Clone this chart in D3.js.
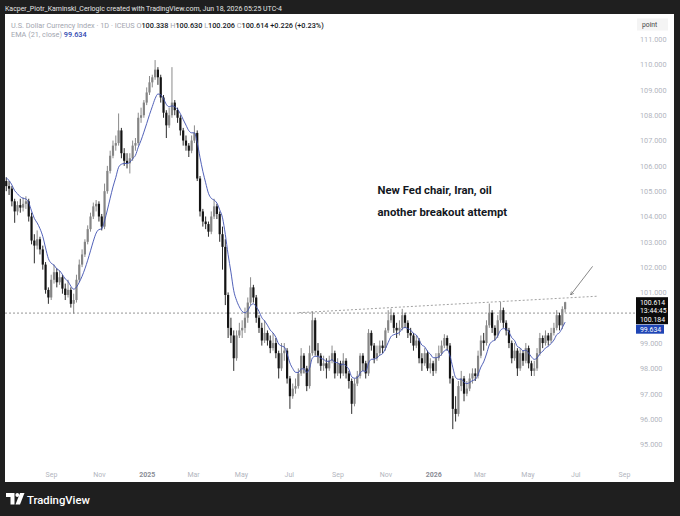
<!DOCTYPE html>
<html><head><meta charset="utf-8">
<script src="https://cdn.jsdelivr.net/npm/d3@7"></script>
<style>html,body{margin:0;padding:0;background:#1f1f1f;}svg{display:block}</style>
</head><body>
<script>
// ---- data (2-trading-day candles) ----
const firstDate = "2024-07-06";
const lastDate = "2026-06-18";
const firstOpen = 105.4;
const closes = [
105.2,105.1,104.6,104.2,104.45,104.35,104.5,104.6,104.0,103.05,
102.85,103.1,102.7,102.1,101.1,100.8,101.5,101.8,101.4,101.6,
101.15,100.9,101.1,100.55,100.7,101.5,102.1,102.5,103.0,103.5,
104.0,104.4,104.5,104.0,103.6,105.0,105.8,106.4,106.8,106.9,
107.4,106.5,106.2,106.1,106.3,106.8,106.9,107.9,108.0,108.5,
108.9,109.3,109.5,109.8,109.5,108.7,108.1,107.6,108.0,108.5,
108.2,107.9,107.4,107.0,106.8,106.6,107.0,107.3,105.5,104.2,
103.8,103.7,103.4,104.0,104.4,104.1,103.3,102.8,100.9,99.6,
99.3,98.4,99.3,99.5,99.6,100.0,100.6,101.2,100.8,100.0,
99.6,99.1,99.4,99.1,98.8,99.0,98.6,98.0,98.6,98.7,
97.6,96.9,97.2,97.3,97.8,98.5,98.0,97.3,98.6,99.9,
98.7,98.5,98.1,98.2,98.0,98.3,98.6,97.8,98.2,97.8,
98.3,97.8,97.5,96.6,97.4,97.7,98.5,98.2,97.8,99.4,
98.9,98.4,98.6,98.9,98.8,99.5,99.9,100.1,99.6,99.5,
99.6,100.1,99.8,99.4,99.3,98.9,99.1,98.4,98.2,98.6,
98.0,98.2,97.9,98.4,98.6,98.9,99.2,98.9,97.6,96.4,
96.2,97.3,97.6,97.0,97.2,97.6,97.8,97.7,98.5,99.1,
99.0,99.7,100.2,99.6,99.3,99.9,100.3,99.8,99.5,99.0,
98.4,98.7,98.0,98.6,98.3,98.8,98.2,97.9,98.0,98.6,
99.2,99.0,99.3,99.1,99.4,99.6,100.1,99.7,100.34,100.614];
const highs = [
105.55,105.4,105.2,104.7,104.6,104.7,104.75,104.8,104.7,104.15,
103.3,103.45,103.2,102.85,102.2,101.2,101.7,102.1,101.95,101.85,
101.7,101.35,101.5,101.2,100.95,101.7,102.3,102.7,103.1,103.65,
104.15,104.55,104.65,104.6,104.1,105.3,106.0,106.6,107.0,107.2,
108.07,107.5,106.7,106.5,106.5,107.0,107.1,108.1,108.3,108.6,
109.1,109.55,109.6,110.18,109.9,109.6,108.8,108.2,108.3,109.9,
108.6,108.3,108.0,107.5,107.2,106.9,107.2,107.6,107.4,105.6,
104.3,104.0,103.8,104.2,104.7,104.5,104.2,103.6,103.1,101.0,
100.0,99.5,99.5,99.8,99.9,100.4,100.8,101.6,101.3,100.9,
100.1,99.8,99.9,99.5,99.3,99.4,99.2,98.7,99.0,99.0,
98.8,97.7,97.4,97.6,98.0,98.8,98.6,98.1,98.9,100.25,
100.0,99.0,98.6,98.5,98.4,98.5,98.9,98.7,98.4,98.3,
98.6,98.4,97.9,97.6,97.6,97.9,98.6,98.6,98.3,99.55,
99.5,99.0,98.9,99.1,99.1,99.6,100.3,100.36,100.2,99.8,
99.9,100.35,100.2,99.9,99.6,99.4,99.3,99.2,98.6,98.8,
98.7,98.4,98.3,98.6,98.9,99.1,99.35,99.3,99.0,97.7,
96.9,97.5,97.9,97.7,97.5,97.8,98.0,98.0,98.7,99.3,
99.4,99.9,100.56,100.3,99.7,100.1,100.62,100.4,99.9,99.6,
99.1,99.0,98.8,98.8,98.7,99.0,98.9,98.3,98.3,98.8,
99.4,99.3,99.5,99.4,99.6,99.8,100.3,100.2,100.45,100.63];
const lows = [
105.0,104.85,104.4,103.75,104.05,104.15,104.2,104.3,103.8,102.9,
102.15,102.7,102.5,101.9,100.95,100.55,100.7,101.35,101.2,101.3,
100.95,100.7,100.8,100.4,100.16,100.6,101.4,102.0,102.4,102.9,
103.4,103.9,104.2,103.8,103.45,103.5,104.9,105.7,106.3,106.6,
106.8,106.3,106.0,105.9,105.7,106.2,106.6,106.8,107.7,107.9,
108.4,108.8,109.1,109.4,109.2,108.5,107.9,107.1,107.5,107.9,
108.0,107.7,107.2,106.8,106.6,106.35,106.5,106.9,105.4,104.0,
103.6,103.5,103.2,103.3,103.9,103.9,103.0,101.9,100.5,99.2,
99.0,97.9,98.3,99.2,99.2,99.4,99.8,100.5,100.6,99.8,
99.4,98.9,99.0,98.9,98.6,98.7,98.4,97.6,97.9,98.3,
97.4,96.4,96.8,97.0,97.2,97.7,97.8,97.1,97.2,98.5,
98.5,98.2,97.9,97.9,97.6,97.9,98.2,97.6,97.7,97.6,
97.7,97.6,97.2,96.2,96.5,97.3,97.6,97.9,97.6,97.7,
98.7,98.2,98.3,98.5,98.6,98.7,99.4,99.8,99.4,99.2,
99.3,99.5,99.6,99.2,99.0,98.7,98.8,98.2,97.9,98.1,
97.9,97.8,97.7,97.8,98.3,98.5,98.8,98.7,97.4,95.6,
95.9,96.1,97.1,96.7,96.9,97.1,97.4,97.5,97.6,98.4,
98.7,98.9,99.6,99.4,99.1,99.2,99.8,99.6,99.3,98.8,
98.2,98.3,97.7,97.9,98.1,98.2,98.0,97.7,97.7,97.9,
98.5,98.8,98.9,98.9,99.0,99.3,99.5,99.5,99.55,100.206];
const emaLength = 21;
const yTicks = [95,96,97,98,99,100,101,102,103,104,105,106,107,108,109,110,111];
const monthTicks = ["2024-09-01","2024-11-01","2025-01-01","2025-03-01","2025-05-01","2025-07-01",
  "2025-09-01","2025-11-01","2026-01-01","2026-03-01","2026-05-01","2026-07-01","2026-09-01"];
const hLineLevel = 100.184;
const trendLine = [["2025-07-14",100.2],["2026-07-29",100.85]];
const arrowLine = [["2026-07-23",102.03],["2026-06-25",100.9]];
const noteLines = ["New Fed chair, Iran, oil","another breakout attempt"];
const noteAnchor = ["2025-10-22",104.88];
const headerTop = "Kacper_Piotr_Kaminski_Cerlogic created with TradingView.com, Jun 18, 2026 05:25 UTC-4";
const legendName = "U.S. Dollar Currency Index · 1D · ICEUS";
const ohlcLabels = [["O","100.338"],["H","100.630"],["L","100.206"],["C","100.614"]];
const changeText = "+0.226 (+0.23%)";
const emaLabel = "EMA (21, close)";
const emaValueText = "99.634";
const lastPriceText = "100.614", countdownText = "13:44:45", hLineText = "100.184";

// ---- build ----
const W = 680, H = 516;
const parse = d3.utcParse("%Y-%m-%d");
const svg = d3.select("body").append("svg").attr("width", W).attr("height", H)
  .style("font-family", "Roboto, 'Liberation Sans', sans-serif");

const x = d3.scaleUtc().domain([parse("2024-09-01"), parse("2026-09-01")]).range([51, 624]);
const y = d3.scaleLinear().domain([95, 111]).range([444.3, 39.3]);

svg.append("rect").attr("width", W).attr("height", H).attr("fill", "#1f1f1f");
svg.append("rect").attr("x", 5).attr("y", 14).attr("width", 669).attr("height", 468).attr("fill", "#ffffff");

svg.append("text").attr("x", 5).attr("y", 10.5).attr("fill", "#e6e6e6")
  .attr("font-size", 7).attr("textLength", 277).attr("lengthAdjust", "spacingAndGlyphs").text(headerTop);

const defs = svg.append("defs");
defs.append("clipPath").attr("id", "plot").append("rect")
  .attr("x", 5).attr("y", 14).attr("width", 630).attr("height", 452);
defs.append("marker").attr("id", "ah").attr("viewBox", "0 0 10 10").attr("refX", 9).attr("refY", 5)
  .attr("markerWidth", 6).attr("markerHeight", 6).attr("orient", "auto")
  .append("path").attr("d", "M1,1 L9,5 L1,9").attr("fill", "none").attr("stroke", "#555").attr("stroke-width", 1.2);

const plot = svg.append("g").attr("clip-path", "url(#plot)");

// candles
const t0 = parse(firstDate), t1 = parse(lastDate), n = closes.length;
const candles = closes.map((c, i) => ({
  date: new Date(+t0 + i * (t1 - t0) / (n - 1)),
  open: i === 0 ? firstOpen : (i === n - 1 ? +ohlcLabels[0][1] : closes[i - 1]),
  high: highs[i], low: lows[i], close: c
}));

// EMA(21 daily) adapted to candle spacing
let wd = 0;
for (let d = +t0; d <= +t1; d += 864e5) { const k = new Date(d).getUTCDay(); if (k !== 0 && k !== 6) wd++; }
const perCandle = (wd - 1) / (n - 1);
const alpha = 1 - Math.pow(1 - 2 / (emaLength + 1), perCandle);
let e = 105.6;
const ema = candles.map(c => { e = e + alpha * (c.close - e); return { date: c.date, v: e }; });

// horizontal level
plot.append("line").attr("x1", 5).attr("x2", 635).attr("y1", y(hLineLevel)).attr("y2", y(hLineLevel))
  .attr("stroke", "#7a7a7a").attr("stroke-width", 0.8).attr("stroke-dasharray", "2,2");
// trend line
plot.append("line")
  .attr("x1", x(parse(trendLine[0][0]))).attr("y1", y(trendLine[0][1]))
  .attr("x2", x(parse(trendLine[1][0]))).attr("y2", y(trendLine[1][1]))
  .attr("stroke", "#8a8a8a").attr("stroke-width", 0.8).attr("stroke-dasharray", "2,2");

const bw = 2.2;
const cg = plot.append("g");
cg.selectAll("line.w").data(candles).join("line").attr("class", "w")
  .attr("x1", d => x(d.date)).attr("x2", d => x(d.date))
  .attr("y1", d => y(d.high)).attr("y2", d => y(d.low))
  .attr("stroke", d => d.close >= d.open ? "#7d7d7d" : "#141414").attr("stroke-width", 0.9);
cg.selectAll("rect.b").data(candles).join("rect").attr("class", "b")
  .attr("x", d => x(d.date) - bw / 2).attr("width", bw)
  .attr("y", d => y(Math.max(d.open, d.close)))
  .attr("height", d => Math.max(0.8, Math.abs(y(d.open) - y(d.close))))
  .attr("fill", d => d.close >= d.open ? "#858585" : "#141414");

plot.append("path").datum(ema)
  .attr("d", d3.line().x(d => x(d.date)).y(d => y(d.v)).curve(d3.curveMonotoneX))
  .attr("fill", "none").attr("stroke", "#3d4fb0").attr("stroke-width", 0.9);

// arrow
plot.append("line")
  .attr("x1", x(parse(arrowLine[0][0]))).attr("y1", y(arrowLine[0][1]))
  .attr("x2", x(parse(arrowLine[1][0]))).attr("y2", y(arrowLine[1][1]))
  .attr("stroke", "#555").attr("stroke-width", 0.7).attr("marker-end", "url(#ah)");

// annotation
const nt = svg.append("text").attr("x", x(parse(noteAnchor[0]))).attr("y", y(noteAnchor[1]))
  .attr("font-size", 11.3).attr("font-weight", 700).attr("fill", "#131722");
noteLines.forEach((t, i) => nt.append("tspan").attr("x", x(parse(noteAnchor[0]))).attr("dy", i ? 22 : 0).text(t));

// y axis
const ya = svg.append("g").attr("transform", "translate(639,0)")
  .call(d3.axisRight(y).tickValues(yTicks).tickFormat(d3.format(".3f")).tickSize(0).tickPadding(1));
ya.select(".domain").remove();
ya.selectAll("text").attr("fill", "#b2b5be").attr("font-size", 7.3).attr("font-family", "Roboto, sans-serif");
ya.selectAll(".tick").filter(d => d === 100).remove();

// point label
svg.append("rect").attr("x", 637).attr("y", 18.5).attr("width", 31).attr("height", 12).attr("fill", "#f4f4f4");
svg.append("text").attr("x", 642).attr("y", 27).attr("font-size", 6.8).attr("fill", "#444").text("point");

// x axis
const xa = svg.append("g").attr("transform", "translate(0,470)")
  .call(d3.axisBottom(x).tickValues(monthTicks.map(parse)).tickSize(0).tickPadding(2)
    .tickFormat(d => d.getUTCMonth() === 0 ? d3.utcFormat("%Y")(d) : d3.utcFormat("%b")(d)));
xa.select(".domain").remove();
xa.selectAll("text").attr("font-size", 7).attr("font-family", "Roboto, sans-serif")
  .attr("fill", d => d.getUTCMonth() === 0 ? "#8a8d96" : "#b2b5be")
  .attr("font-weight", d => d.getUTCMonth() === 0 ? 700 : 400);

// price labels
const ly = y(closes[n - 1]);
svg.append("rect").attr("x", 636).attr("y", ly - 5).attr("width", 32).attr("height", 27).attr("fill", "#0b0b0b");
[[lastPriceText, 3], [countdownText, 11], [hLineText, 20]].forEach(([t, dy]) =>
  svg.append("text").attr("x", 640).attr("y", ly + dy).attr("font-size", 6.9).attr("fill", "#fff").text(t));
svg.append("rect").attr("x", 636).attr("y", ly + 22.5).attr("width", 28).attr("height", 9).attr("fill", "#1f45b5");
svg.append("text").attr("x", 640).attr("y", ly + 29.8).attr("font-size", 6.9).attr("fill", "#fff").text(emaValueText);

// legend
const lg = svg.append("text").attr("x", 11).attr("y", 27.8).attr("font-size", 7.3).attr("fill", "#a3a6af");
lg.append("tspan").text(legendName + "  ");
ohlcLabels.forEach(([k, v]) => { lg.append("tspan").text(k); lg.append("tspan").attr("fill", "#131722").attr("font-weight", 500).text(v + "  "); });
lg.append("tspan").attr("fill", "#131722").attr("font-weight", 500).text(changeText);
const lg2 = svg.append("text").attr("x", 11).attr("y", 36.8).attr("font-size", 7.3).attr("fill", "#a3a6af");
lg2.append("tspan").text(emaLabel + "  ");
lg2.append("tspan").attr("fill", "#2e46b0").attr("font-weight", 500).text(emaValueText);

// logo
const lo = svg.append("g").attr("fill", "#ffffff");
lo.append("path").attr("d", "M6,493 H14.5 V504.5 H10.5 V497 H6 Z");
lo.append("circle").attr("cx", 17.3).attr("cy", 495).attr("r", 1.9);
lo.append("path").attr("d", "M20,493 H24.5 L20,504.5 H15.5 Z");
svg.append("text").attr("x", 27).attr("y", 503.5).attr("font-size", 11.3).attr("font-weight", 500)
  .attr("fill", "#fff").text("TradingView");
</script>
</body></html>
